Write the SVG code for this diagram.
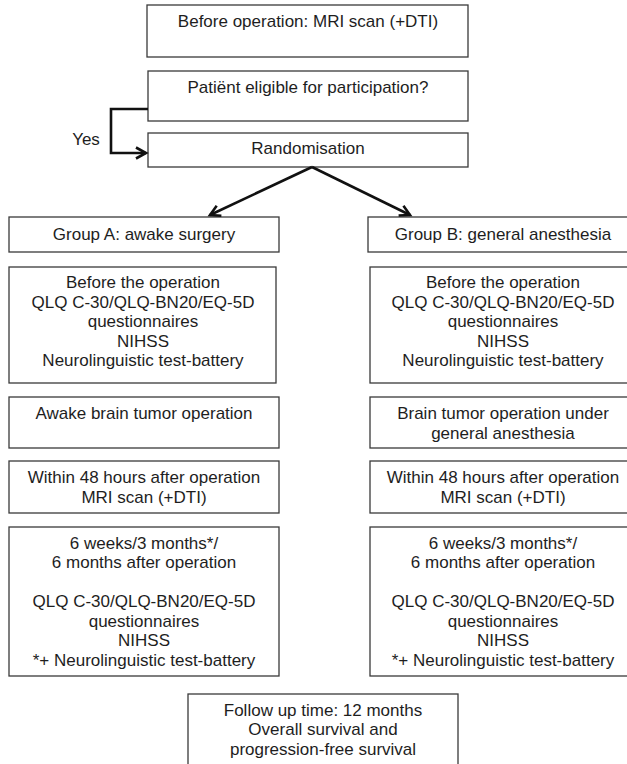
<svg xmlns="http://www.w3.org/2000/svg" width="627" height="764" viewBox="0 0 627 764">
<defs>
<style>
.box{fill:#fff;stroke:#3a3a3a;stroke-width:1.3}
.t{font-family:"Liberation Sans",Arial,sans-serif;font-size:17px;fill:#1e1e1e;text-anchor:middle}
.c{fill:none;stroke:#111;stroke-width:2.6}
</style>
<marker id="ah" markerUnits="userSpaceOnUse" viewBox="0 0 14 14" markerWidth="14" markerHeight="14" refX="12" refY="7" orient="auto" overflow="visible">
<path d="M2,1.5 L12,7 L2,12.5" fill="none" stroke="#111" stroke-width="2.6"/>
</marker>
</defs>
<rect width="627" height="764" fill="#fff"/>
<g id="n-mri-before"><rect class="box" x="147" y="5" width="321" height="52"/><text class="t" x="308" y="27">Before operation: MRI scan (+DTI)</text></g>
<g id="n-eligible"><rect class="box" x="148" y="71" width="320" height="50"/><text class="t" x="308" y="93">Patiënt eligible for participation?</text></g>
<g id="n-random"><rect class="box" x="148" y="133" width="320" height="34"/><text class="t" x="308" y="154">Randomisation</text></g>
<g id="n-yes-label"><text class="t" x="86" y="145">Yes</text></g>
<g id="n-groupA"><rect class="box" x="9" y="217" width="270" height="35"/><text class="t" x="144" y="240">Group A: awake surgery</text></g>
<g id="n-groupB"><rect class="box" x="368" y="217" width="270" height="35"/><text class="t" x="503" y="240">Group B: general anesthesia</text></g>
<g id="n-a-before"><rect class="box" x="9" y="267" width="267" height="116"/><text class="t" x="143"><tspan x="143" y="288">Before the operation</tspan><tspan x="143" y="307.5">QLQ C-30/QLQ-BN20/EQ-5D</tspan><tspan x="143" y="327">questionnaires</tspan><tspan x="143" y="346.5">NIHSS</tspan><tspan x="143" y="366">Neurolinguistic test-battery</tspan></text></g>
<g id="n-b-before"><rect class="box" x="370" y="267" width="268" height="116"/><text class="t" x="503"><tspan x="503" y="288">Before the operation</tspan><tspan x="503" y="307.5">QLQ C-30/QLQ-BN20/EQ-5D</tspan><tspan x="503" y="327">questionnaires</tspan><tspan x="503" y="346.5">NIHSS</tspan><tspan x="503" y="366">Neurolinguistic test-battery</tspan></text></g>
<g id="n-a-op"><rect class="box" x="9" y="397" width="270" height="51"/><text class="t" x="144" y="419">Awake brain tumor operation</text></g>
<g id="n-b-op"><rect class="box" x="370" y="397" width="268" height="51"/><text class="t" x="503"><tspan x="503" y="419">Brain tumor operation under</tspan><tspan x="503" y="438.5">general anesthesia</tspan></text></g>
<g id="n-a-48h"><rect class="box" x="9" y="461" width="270" height="52"/><text class="t" x="144"><tspan x="144" y="483">Within 48 hours after operation</tspan><tspan x="144" y="502.5">MRI scan (+DTI)</tspan></text></g>
<g id="n-b-48h"><rect class="box" x="370" y="461" width="268" height="52"/><text class="t" x="503"><tspan x="503" y="483">Within 48 hours after operation</tspan><tspan x="503" y="502.5">MRI scan (+DTI)</tspan></text></g>
<g id="n-a-follow"><rect class="box" x="9" y="527" width="270" height="149"/><text class="t" x="144"><tspan x="144" y="548.5">6 weeks/3 months*/</tspan><tspan x="144" y="568">6 months after operation</tspan><tspan x="144" y="607">QLQ C-30/QLQ-BN20/EQ-5D</tspan><tspan x="144" y="626.5">questionnaires</tspan><tspan x="144" y="646">NIHSS</tspan><tspan x="144" y="665.5">*+ Neurolinguistic test-battery</tspan></text></g>
<g id="n-b-follow"><rect class="box" x="370" y="527" width="268" height="149"/><text class="t" x="503"><tspan x="503" y="548.5">6 weeks/3 months*/</tspan><tspan x="503" y="568">6 months after operation</tspan><tspan x="503" y="607">QLQ C-30/QLQ-BN20/EQ-5D</tspan><tspan x="503" y="626.5">questionnaires</tspan><tspan x="503" y="646">NIHSS</tspan><tspan x="503" y="665.5">*+ Neurolinguistic test-battery</tspan></text></g>
<g id="n-survival"><rect class="box" x="188" y="694" width="270" height="80"/><text class="t" x="323"><tspan x="323" y="715.5">Follow up time: 12 months</tspan><tspan x="323" y="735">Overall survival and</tspan><tspan x="323" y="754.5">progression-free survival</tspan></text></g>
<g id="connectors">
<path class="c" d="M148,109 H111 V153 H146" marker-end="url(#ah)"/>
<path class="c" d="M312,167 L210,215" marker-end="url(#ah)"/>
<path class="c" d="M312,167 L410,215" marker-end="url(#ah)"/>
</g>
</svg>
